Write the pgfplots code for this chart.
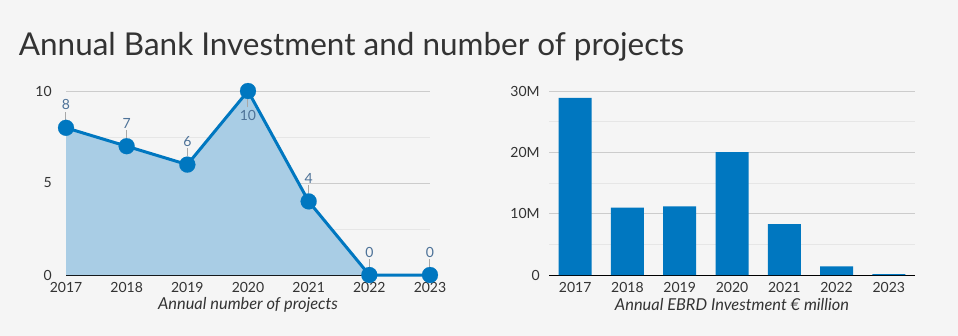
\documentclass[border=0pt]{standalone}
\usepackage{fontspec}
\setmainfont{Lato}
\usepackage{pgfplots}
\pgfplotsset{compat=1.18}
\definecolor{bgcol}{HTML}{F5F5F5}
\definecolor{maincol}{HTML}{0077C0}
\definecolor{fillcol}{HTML}{A9CDE5}
\definecolor{labcol}{HTML}{4D7298}
\definecolor{txtcol}{HTML}{333333}
\definecolor{gridcol}{HTML}{CCCCCC}
\definecolor{mgridcol}{HTML}{E6E6E6}
\definecolor{conncol}{HTML}{A8A8A8}
\begin{document}
\begin{tikzpicture}
\fill[bgcol] (0pt,0pt) rectangle (718.5pt,-252pt);
\node[anchor=west, inner sep=0pt, text=txtcol, font=\fontsize{23.6}{27}\selectfont] at (14pt,-35.25pt) {Annual Bank Investment and number of projects};
\pgfplotsset{
  common/.style={
    scale only axis,
    anchor=south west,
    height=138pt,
    ymin=0,
    axis x line*=bottom,
    axis y line*=left,
    y axis line style={draw=none},
    x axis line style={draw=black, line width=0.75pt},
    major tick length=0pt,
    minor tick length=0pt,
    ymajorgrids, yminorgrids,
    major grid style={gridcol, line width=0.75pt},
    minor grid style={mgridcol, line width=0.75pt},
    tick label style={font=\fontsize{10.5}{12}\selectfont, text=txtcol},
    /pgf/number format/assume math mode=true,
    xticklabel style={anchor=center, yshift=-9pt},
    xlabel style={font=\fontsize{12.3}{14}\selectfont\itshape, text=txtcol, at={(axis description cs:0.5,0)}, anchor=center, yshift=-22.5pt},
    clip=false,
  }
}
% Left: number of projects
\begin{axis}[common,
  at={(49.5pt,-206.25pt)},
  width=273pt,
  xmin=2017, xmax=2023,
  ymax=10,
  xtick={2017,2018,2019,2020,2021,2022,2023},
  xticklabel style={/pgf/number format/1000 sep={}},
  ytick={0,5,10},
  minor ytick={2.5,7.5},
  yticklabel style={anchor=east, inner sep=0pt, xshift=-10.5pt},
  xlabel={Annual number of projects},
]
\addplot[fill=fillcol, draw=none] coordinates {(2017,8) (2018,7) (2019,6) (2020,10) (2021,4) (2022,0) (2023,0)} \closedcycle;
% connectors above
\addplot[draw=none, mark=none, point meta=explicit symbolic, nodes near coords,
  every node near coord/.style={anchor=south, inner sep=0pt, yshift=6pt}]
  coordinates {(2017,8)[\textcolor{conncol}{\rule{0.75pt}{6pt}}] (2018,7)[\textcolor{conncol}{\rule{0.75pt}{6pt}}] (2019,6)[\textcolor{conncol}{\rule{0.75pt}{6pt}}] (2021,4)[\textcolor{conncol}{\rule{0.75pt}{6pt}}] (2022,0)[\textcolor{conncol}{\rule{0.75pt}{6pt}}] (2023,0)[\textcolor{conncol}{\rule{0.75pt}{6pt}}]};
% connector below for 2020
\addplot[draw=none, mark=none, point meta=explicit symbolic, nodes near coords,
  every node near coord/.style={anchor=north, inner sep=0pt, yshift=-6pt}]
  coordinates {(2020,10)[\textcolor{conncol}{\rule{0.75pt}{6pt}}]};
% line
\addplot[maincol, line width=2.25pt, mark=none, line join=round]
  coordinates {(2017,8) (2018,7) (2019,6) (2020,10) (2021,4) (2022,0) (2023,0)};
% markers
\addplot[maincol, only marks, mark=*, mark size=6pt, mark options={solid, fill=maincol, draw=maincol, line width=0.1pt}]
  coordinates {(2017,8) (2018,7) (2019,6) (2020,10) (2021,4) (2022,0) (2023,0)};
% labels above
\addplot[draw=none, mark=none, nodes near coords, point meta=y,
  every node near coord/.style={anchor=center, inner sep=0pt, yshift=17.25pt, text=labcol, font=\fontsize{10.5}{12}\selectfont}]
  coordinates {(2017,8) (2018,7) (2019,6) (2021,4) (2022,0) (2023,0)};
% label below for 2020
\addplot[draw=none, mark=none, nodes near coords, point meta=y,
  every node near coord/.style={anchor=center, inner sep=0pt, yshift=-18.5pt, text=labcol, font=\fontsize{10.5}{12}\selectfont}]
  coordinates {(2020,10)};
\end{axis}
% Right: investment
\begin{axis}[common,
  at={(411.75pt,-206.25pt)},
  width=274.5pt,
  xmin=-0.5, xmax=6.5,
  ymax=30,
  xtick={0,1,2,3,4,5,6},
  xticklabels={2017,2018,2019,2020,2021,2022,2023},
  ytick={0,10,20,30},
  yticklabels={0,10M,20M,30M},
  minor ytick={5,15,25},
  yticklabel style={anchor=east, inner sep=0pt, xshift=-6.75pt},
  xlabel={Annual EBRD Investment € million},
]
\addplot[ybar, bar width=24.75pt, fill=maincol, draw=none]
  coordinates {(0,28.9) (1,11.0) (2,11.2) (3,20.05) (4,8.3) (5,1.4) (6,0.15)};
\end{axis}
\end{tikzpicture}
\end{document}
